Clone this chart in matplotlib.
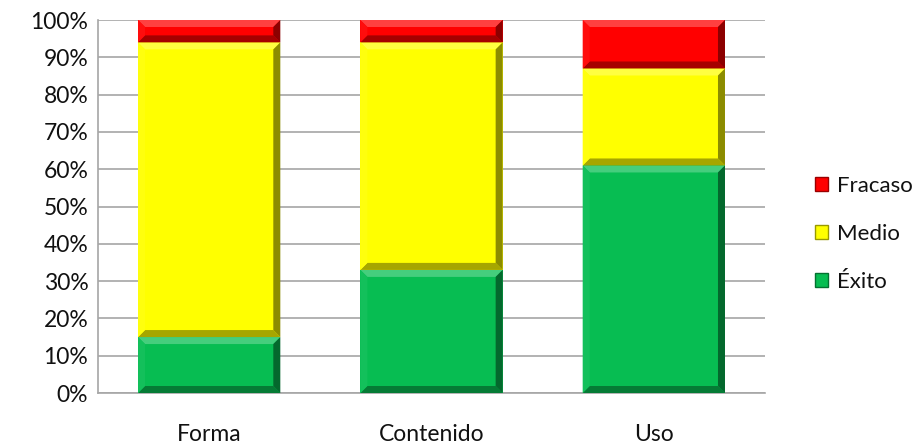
import matplotlib
matplotlib.use("Agg")
import matplotlib.pyplot as plt
from matplotlib.patches import Polygon, Patch
import numpy as np

categories = ["Forma", "Contenido", "Uso"]
exito = [15, 33, 61]
medio = [79, 61, 26]
fracaso = [6, 6, 13]
series_names = ["Éxito", "Medio", "Fracaso"]
series_values = [exito, medio, fracaso]
colors = ["#07BD52", "#FFFF00", "#FF0000"]
yticks = list(range(0, 101, 10))

plt.rcParams['font.family'] = ['Lato', 'DejaVu Sans']

W, H = 916, 448
fig = plt.figure(figsize=(W / 100, H / 100), dpi=100)
ax = fig.add_axes([98 / W, (448 - 393) / H, (765 - 98) / W, (393 - 20) / H])

x = np.arange(len(categories))
bw = 0.64
ax.set_xlim(-0.5, len(categories) - 0.5)
ax.set_ylim(0, 100)

def mix(c, t, a):
    c = np.array(matplotlib.colors.to_rgb(c))
    t = np.array(matplotlib.colors.to_rgb(t))
    return tuple(c * (1 - a) + t * a)

bpx = 7.0
dx = bpx / ((765 - 98) / 3.0)
dy = bpx / ((393 - 20) / 100.0)

bottom = np.zeros(len(categories))
for name, vals, col in zip(series_names, series_values, colors):
    bars = ax.bar(x, vals, bw, bottom=bottom, color=col, label=name, zorder=3,
                  linewidth=0)
    for rect in bars:
        x0, y0 = rect.get_x(), rect.get_y()
        x1, y1 = x0 + rect.get_width(), y0 + rect.get_height()
        polys = [
            ([(x0, y1), (x1, y1), (x1 - dx, y1 - dy), (x0 + dx, y1 - dy)], mix(col, "white", 0.25)),
            ([(x0, y0), (x1, y0), (x1 - dx, y0 + dy), (x0 + dx, y0 + dy)], mix(col, "black", 0.35)),
            ([(x0, y0), (x0, y1), (x0 + dx, y1 - dy), (x0 + dx, y0 + dy)], mix(col, "white", 0.05)),
            ([(x1, y0), (x1, y1), (x1 - dx, y1 - dy), (x1 - dx, y0 + dy)], mix(col, "black", 0.45)),
        ]
        for pts, c in polys:
            ax.add_patch(Polygon(pts, closed=True, facecolor=c, edgecolor="none", zorder=4))
    bottom += np.array(vals)

ax.set_yticks(yticks)
ax.set_yticklabels([f"{t}%" for t in yticks])
ax.set_xticks(x)
ax.set_xticklabels(categories)
ax.yaxis.grid(True, color="#A6A6A6", linewidth=1.2, zorder=0)
ax.set_axisbelow(True)
for s in ["top", "right"]:
    ax.spines[s].set_visible(False)
for s in ["left", "bottom"]:
    ax.spines[s].set_color("#A6A6A6")
    ax.spines[s].set_linewidth(1.2)
ax.tick_params(axis="y", length=0, pad=7, labelsize=16.5, colors="#111111")
ax.tick_params(axis="x", length=0, pad=22, labelsize=16.5, colors="#111111")

handles = [Patch(facecolor=c, edgecolor=mix(c, "black", 0.4), linewidth=1) for c in colors]
leg = fig.legend(handles[::-1], series_names[::-1], loc="center left",
                 bbox_to_anchor=(795 / W, (448 - 234) / H), frameon=False,
                 fontsize=16, handlelength=0.6, handleheight=0.6,
                 handletextpad=0.4, labelspacing=1.25)
for t in leg.get_texts():
    t.set_color("#111111")

fig.savefig("out.png", dpi=100)
